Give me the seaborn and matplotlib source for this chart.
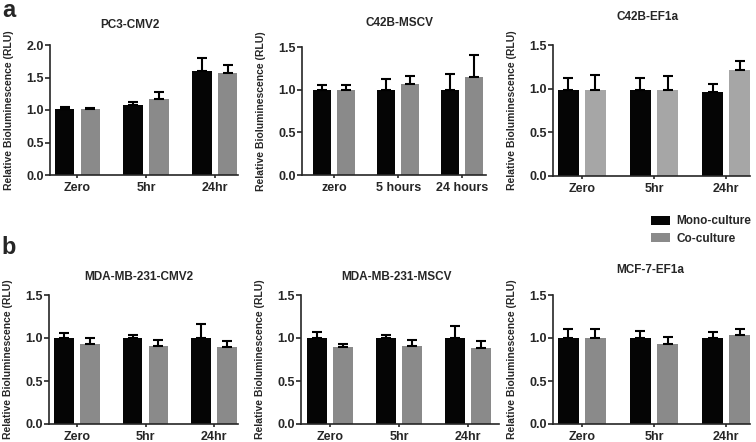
import matplotlib
matplotlib.use("Agg")
import matplotlib.pyplot as plt
from matplotlib.patches import Patch
import seaborn as sns
import pandas as pd

# ---------------- data ----------------
titles = ["PC3-CMV2", "C42B-MSCV", "C42B-EF1a",
          "MDA-MB-231-CMV2", "MDA-MB-231-MSCV", "MCF-7-EF1a"]
time_labels = [["Zero", "5hr", "24hr"],
               ["zero", "5 hours", "24 hours"],
               ["Zero", "5hr", "24hr"],
               ["Zero", "5hr", "24hr"],
               ["Zero", "5hr", "24hr"],
               ["Zero", "5hr", "24hr"]]
groups = ["Mono-culture", "Co-culture"]
mono_mean = [[1.01, 1.08, 1.595],
             [1.00, 1.00, 1.00],
             [0.985, 0.985, 0.965],
             [1.00, 1.00, 1.00],
             [1.00, 1.00, 1.00],
             [1.00, 1.00, 1.00]]
mono_err = [[0.03, 0.05, 0.20],
            [0.06, 0.13, 0.18],
            [0.135, 0.135, 0.085],
            [0.06, 0.035, 0.16],
            [0.07, 0.035, 0.14],
            [0.11, 0.08, 0.07]]
co_mean = [[1.01, 1.17, 1.575],
           [1.00, 1.066, 1.15],
           [0.985, 0.99, 1.21],
           [0.93, 0.91, 0.895],
           [0.89, 0.91, 0.88],
           [1.00, 0.93, 1.035]]
co_err = [[0.025, 0.10, 0.115],
          [0.06, 0.10, 0.26],
          [0.17, 0.16, 0.11],
          [0.07, 0.07, 0.065],
          [0.04, 0.07, 0.085],
          [0.11, 0.085, 0.075]]
y_max = [2.0, 1.5, 1.5, 1.5, 1.5, 1.5]
y_ticks = [[0.0, 0.5, 1.0, 1.5, 2.0]] + [[0.0, 0.5, 1.0, 1.5]] * 5
co_colors = ["#8a8a8a", "#8a8a8a", "#a6a6a6", "#8a8a8a", "#8a8a8a", "#8a8a8a"]
mono_color = "#050505"

# ---------------- layout (pixels) ----------------
W, H = 756, 442
# left, right, top, bottom, xlim_left, xlim_right, title_cx, title_base
layout = [
    (50, 238, 45, 175, -0.40, 2.34, 130, 28),
    (302, 486, 47, 175, -0.50, 2.37, 400, 26),
    (553, 750, 45, 176, -0.40, 2.33, 648, 20),
    (49, 238, 295, 424, -0.41, 2.35, 139, 280),
    (301, 499, 295, 424, -0.42, 2.45, 397, 280),
    (553, 750, 295, 424, -0.40, 2.33, 650, 273),
]

sns.set_style("ticks")
plt.rcParams["font.family"] = ["Liberation Sans", "DejaVu Sans"]
plt.rcParams["font.weight"] = "bold"

fig = plt.figure(figsize=(W / 100, H / 100), dpi=100)

for i in range(6):
    l, r, t, b, x0, x1, tcx, tby = layout[i]
    ax = fig.add_axes([l / W, (H - b) / H, (r - l) / W, (b - t) / H])
    df = pd.DataFrame({
        "time": time_labels[i] * 2,
        "group": [groups[0]] * 3 + [groups[1]] * 3,
        "value": mono_mean[i] + co_mean[i],
    })
    sns.barplot(data=df, x="time", y="value", hue="group",
                order=time_labels[i], hue_order=groups,
                palette=[mono_color, co_colors[i]],
                width=0.75, gap=0.24, errorbar=None, legend=False,
                saturation=1, linewidth=0, ax=ax)
    # error bars (upper only, Prism style)
    bars = sorted(ax.patches, key=lambda p: p.get_x())
    errs = []
    for k in range(3):
        errs += [mono_err[i][k], co_err[i][k]]
    for p, e in zip(bars, errs):
        cx = p.get_x() + p.get_width() / 2
        h = p.get_height()
        ax.errorbar([cx], [h], yerr=[[0], [e]], fmt="none", ecolor="black",
                    elinewidth=1.5, capsize=3.8, capthick=1.5, zorder=1)
    ax.set_xlim(x0, x1)
    ax.set_ylim(0, y_max[i])
    ax.set_yticks(y_ticks[i])
    ax.set_yticklabels([f"{v:.1f}" for v in y_ticks[i]])
    ax.set_xlabel("")
    ax.set_ylabel("Relative Bioluminescence (RLU)", fontsize=7.5, fontweight="bold")
    ax.yaxis.set_label_coords(-36 / (r - l), 0.5)
    sns.despine(ax=ax)
    for s in ["left", "bottom"]:
        ax.spines[s].set_linewidth(1.2)
    ax.tick_params(axis="y", length=3.5, width=1.2, pad=1, labelsize=9)
    ax.tick_params(axis="x", length=2.5, width=1.2, pad=2.5, labelsize=9)
    for lab in ax.get_xticklabels() + ax.get_yticklabels():
        lab.set_fontweight("bold")
    fig.text(tcx / W, (H - tby) / H, titles[i], ha="center", va="baseline",
             fontsize=8.5, fontweight="bold")

fig.text(2 / W, (H - 17) / H, "a", fontsize=17, fontweight="bold",
         ha="left", va="baseline")
fig.text(1 / W, (H - 254) / H, "b", fontsize=17, fontweight="bold",
         ha="left", va="baseline")

handles = [Patch(facecolor=mono_color, edgecolor="none"),
           Patch(facecolor="#8a8a8a", edgecolor="none")]
fig.legend(handles, groups, loc="upper left",
           bbox_to_anchor=(649 / W, (H - 213) / H),
           frameon=False, prop={"size": 8.5, "weight": "bold"},
           handlelength=1.6, handleheight=0.85, handletextpad=0.5,
           labelspacing=0.45, borderpad=0.2, borderaxespad=0)

fig.savefig("out.png", dpi=100)
